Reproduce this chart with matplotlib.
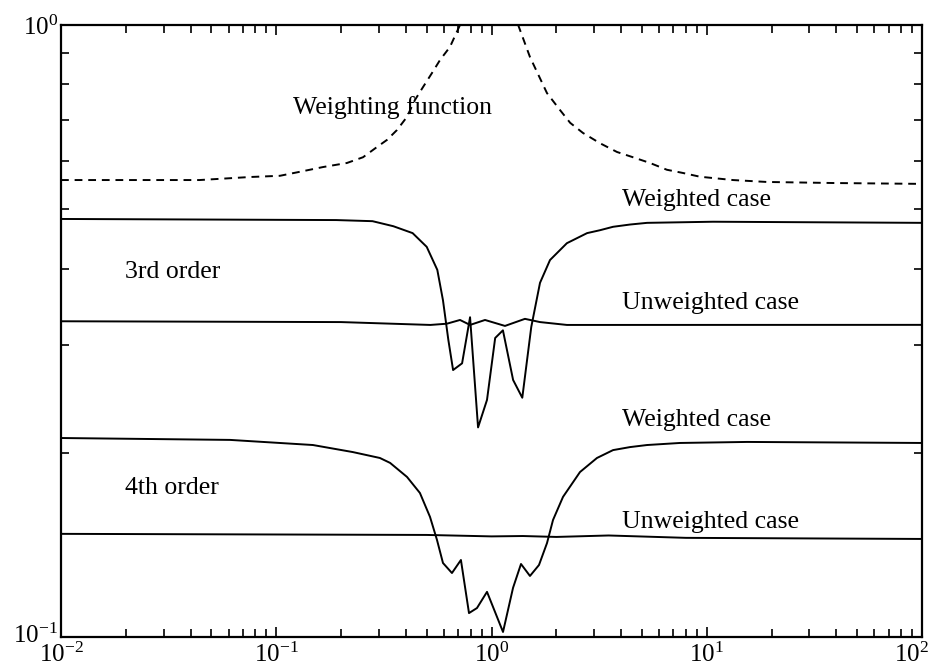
import matplotlib
matplotlib.use("Agg")
import matplotlib.pyplot as plt
from matplotlib.ticker import LogLocator, NullFormatter
from matplotlib.transforms import ScaledTranslation

plt.rcParams['font.family'] = ['Liberation Serif', 'DejaVu Serif']
plt.rcParams['mathtext.fontset'] = 'stix'

# weighting function (dashed), peak goes off the top
w_x = [0.01, 0.044, 0.0755, 0.104, 0.129, 0.165, 0.213, 0.253, 0.294, 0.327,
       0.364, 0.404, 0.441, 0.481, 0.529, 0.577, 0.641, 0.714, 0.85, 1.0,
       1.15, 1.33, 1.509, 1.81, 2.08, 2.32, 2.66, 3.19, 3.83, 4.54,
       5.45, 6.53, 7.76, 9.30, 13.24, 19.0, 38.6, 100]
w_y = [0.558, 0.558, 0.5644, 0.567, 0.5757, 0.586, 0.595, 0.608, 0.632, 0.649,
       0.6737, 0.707, 0.7543, 0.792, 0.8347, 0.877, 0.9206, 1.0, 1.15, 1.2,
       1.15, 1.0, 0.8865, 0.774, 0.7263, 0.692, 0.6662, 0.641, 0.6201, 0.608,
       0.595, 0.580, 0.573, 0.565, 0.558, 0.554, 0.5518, 0.550]

# 3rd order
w3_x = [0.01, 0.19, 0.28, 0.35, 0.43, 0.50, 0.56, 0.595, 0.63, 0.663, 0.73, 0.795, 0.866, 0.953,
        1.04, 1.13, 1.26, 1.39, 1.53, 1.68, 1.87, 2.24, 2.78, 3.19, 3.67, 4.40, 5.28, 10.7, 100]
w3_y = [0.482, 0.480, 0.478, 0.469, 0.457, 0.434, 0.398, 0.355, 0.306, 0.273, 0.280, 0.333, 0.220, 0.244,
        0.308, 0.317, 0.263, 0.246, 0.321, 0.379, 0.413, 0.440, 0.457, 0.462, 0.468, 0.472, 0.475, 0.477, 0.475]
u3_x = [0.01, 0.2, 0.52, 0.62, 0.714, 0.795, 0.933, 1.155, 1.43, 1.68, 2.24, 3.19, 100]
u3_y = [0.328, 0.327, 0.3235, 0.325, 0.3296, 0.3235, 0.3296, 0.3223, 0.331, 0.327, 0.3235, 0.3235, 0.3236]

# 4th order
w4_x = [0.01, 0.061, 0.148, 0.227, 0.303, 0.338, 0.405, 0.465, 0.518, 0.558, 0.595, 0.655, 0.721, 0.786,
        0.856, 0.953, 1.131, 1.259, 1.371, 1.509, 1.662, 1.811, 1.931, 2.149, 2.577, 3.09, 3.67, 4.40,
        5.28, 7.51, 15.4, 100]
w4_y = [0.2114, 0.2099, 0.2059, 0.2005, 0.1961, 0.1925, 0.1826, 0.1719, 0.1571, 0.1441, 0.1321, 0.1272,
        0.1336, 0.1094, 0.1115, 0.1185, 0.1019, 0.1203, 0.1316, 0.1258, 0.1311, 0.1424, 0.1553, 0.1694,
        0.1860, 0.1961, 0.2020, 0.2043, 0.2059, 0.2075, 0.2083, 0.2075]
u4_x = [0.01, 0.5, 1.0, 1.4, 2.0, 3.5, 8, 100]
u4_y = [0.1474, 0.1468, 0.1460, 0.1462, 0.1457, 0.1465, 0.1452, 0.1446]

x_ticks = [1e-2, 1e-1, 1e0, 1e1, 1e2]
y_ticks = [1e-1, 1e0]

# annotations: (text, x, y)
labels = [
    ("Weighting function", 0.1197, 0.732),
    ("Weighted case", 4.04, 0.518),
    ("3rd order", 0.0198, 0.395),
    ("Unweighted case", 4.04, 0.3513),
    ("Weighted case", 4.04, 0.2262),
    ("4th order", 0.0198, 0.1752),
    ("Unweighted case", 4.04, 0.1541),
]

fig = plt.figure(figsize=(9.33, 6.70), dpi=100)
ax = fig.add_axes([0.0654, 0.0493, 0.9228, 0.9134])

ax.plot(w_x, w_y, color='black', lw=1.4, ls=(0, (4, 3)))
ax.plot(w3_x, w3_y, color='black', lw=1.4)
ax.plot(u3_x, u3_y, color='black', lw=1.4)
ax.plot(w4_x, w4_y, color='black', lw=1.4)
ax.plot(u4_x, u4_y, color='black', lw=1.4)

for txt, tx, ty in labels:
    ax.text(tx, ty, txt, fontsize=18.5, ha='left', va='center')

ax.set_xscale('log')
ax.set_yscale('log')
ax.set_xlim(1e-2, 1e2)
ax.set_ylim(1e-1, 1e0)
ax.set_xticks(x_ticks)
ax.set_yticks(y_ticks)
ax.xaxis.set_minor_locator(LogLocator(base=10, subs=range(2, 10), numticks=20))
ax.yaxis.set_minor_locator(LogLocator(base=10, subs=range(2, 10), numticks=20))
ax.xaxis.set_minor_formatter(NullFormatter())
ax.yaxis.set_minor_formatter(NullFormatter())
ax.tick_params(which='both', direction='in', top=True, right=True, width=1.2, labelsize=18)
ax.tick_params(which='major', length=7)
ax.tick_params(which='minor', length=6)
ax.tick_params(axis='y', pad=2)
ax.tick_params(axis='x', pad=4)
for s in ax.spines.values():
    s.set_linewidth(1.6)

# pull the last x label inward so it stays on the page
xt = ax.xaxis.get_major_ticks()
xt[-1].label1.set_transform(xt[-1].label1.get_transform() + ScaledTranslation(-0.11, 0, fig.dpi_scale_trans))
# lift the bottom y label a little, as in the original
yt = ax.yaxis.get_major_ticks()
yt[0].label1.set_transform(yt[0].label1.get_transform() + ScaledTranslation(0, 0.04, fig.dpi_scale_trans))

fig.savefig('out.png', dpi=100)
